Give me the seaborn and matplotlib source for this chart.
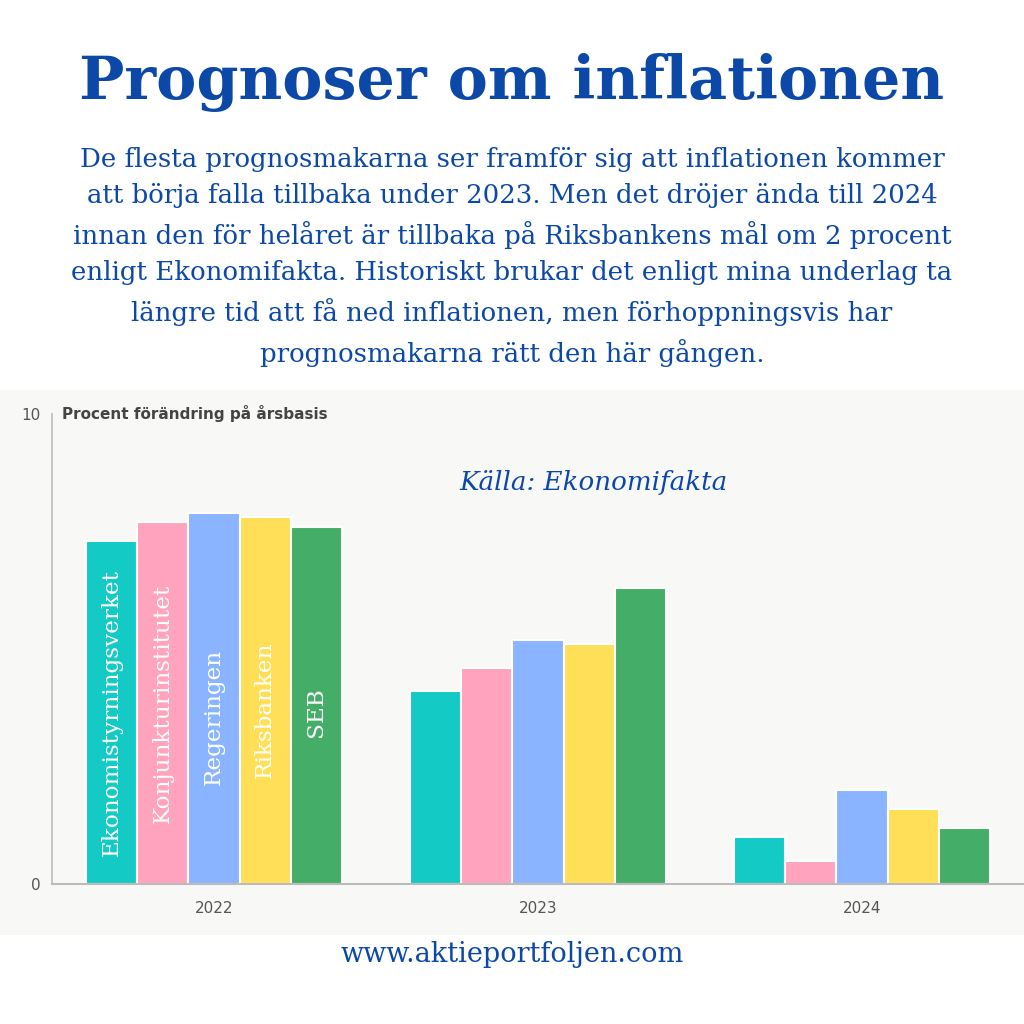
import matplotlib
matplotlib.use("Agg")
import matplotlib.pyplot as plt
import seaborn as sns
import pandas as pd
from matplotlib.patches import Rectangle

years = ["2022", "2023", "2024"]
sources = ["Ekonomistyrningsverket", "Konjunkturinstitutet", "Regeringen", "Riksbanken", "SEB"]
esv = [7.3, 4.1, 1.0]
ki = [7.7, 4.6, 0.5]
reg = [7.9, 5.2, 2.0]
riks = [7.8, 5.1, 1.6]
seb = [7.6, 6.3, 1.2]
colors = ["#13CAC4", "#FFA3BF", "#8AB4FF", "#FFDF57", "#44AD67"]

rows = []
for s, vals in zip(sources, [esv, ki, reg, riks, seb]):
    for y, v in zip(years, vals):
        rows.append({"year": y, "source": s, "value": v})
df = pd.DataFrame(rows)

sns.set_theme(style="white")
plt.rcParams['font.family'] = ['DejaVu Sans']

BLUE = "#0B48A8"
fig = plt.figure(figsize=(10.24, 10.24), dpi=100)
fig.patch.set_facecolor("white")

# panel background
fig.add_artist(Rectangle((0, 0.087), 1.0, 0.532, transform=fig.transFigure,
                         facecolor="#F8F8F6", edgecolor="none", zorder=0))

ax = fig.add_axes([52/1024, 1-884/1024, 1-52/1024, 470/1024])
ax.set_facecolor("none")
sns.barplot(data=df, x="year", y="value", hue="source", hue_order=sources,
            order=years, palette=colors, saturation=1, width=0.79,
            edgecolor="white", linewidth=1.5, ax=ax, legend=False)
ax.set_xlim(-0.5, 2.5)
ax.set_ylim(0, 10)
ax.set_yticks([0, 10])
ax.set_yticklabels(["0", "10"], color="#555555", fontsize=11)
ax.tick_params(axis="x", colors="#555555", labelsize=11, length=0, pad=12)
ax.tick_params(axis="y", length=0, pad=8)
for s in ["top", "right"]:
    ax.spines[s].set_visible(False)
ax.spines["left"].set_color("#BBBBBB")
ax.spines["bottom"].set_color("#BBBBBB")
ax.spines["left"].set_linewidth(1.2)
ax.spines["bottom"].set_linewidth(1.5)
ax.set_xlabel("")
ax.set_ylabel("")

# labels inside 2022 bars
label_y = [3.65, 3.85, 3.55, 3.7, 3.65]
for cont, name, ly in zip(ax.containers, sources, label_y):
    p = cont.patches[0]
    ax.text(p.get_x() + p.get_width() / 2, ly, name, rotation=90,
            ha="center", va="center", color="white", fontsize=16.7,
            family="DejaVu Serif")

ax.text(-0.47, 10.0, "Procent förändring på årsbasis",
        fontsize=11, fontweight="bold", color="#444444", va="center", ha="left")

ax.text(1.17, 8.55, "Källa: Ekonomifakta", fontsize=18.8, style="italic",
        color=BLUE, ha="center", va="center", family="DejaVu Serif")

fig.text(0.5, 1-82/1024, "Prognoser om inflationen", ha="center", va="center",
         fontsize=43.4, fontweight="bold", color=BLUE, family="DejaVu Serif")

sub = ("De flesta prognosmakarna ser framför sig att inflationen kommer\n"
       "att börja falla tillbaka under 2023. Men det dröjer ända till 2024\n"
       "innan den för helåret är tillbaka på Riksbankens mål om 2 procent\n"
       "enligt Ekonomifakta. Historiskt brukar det enligt mina underlag ta\n"
       "längre tid att få ned inflationen, men förhoppningsvis har\n"
       "prognosmakarna rätt den här gången.")
fig.text(0.5, 1-257/1024, sub, ha="center", va="center", fontsize=18.7,
         color=BLUE, family="DejaVu Serif", linespacing=1.55)

fig.text(0.5, 1-954/1024, "www.aktieportfoljen.com", ha="center", va="center",
         fontsize=19.5, color=BLUE, family="DejaVu Serif")

fig.savefig("out.png", dpi=100, facecolor="white")
